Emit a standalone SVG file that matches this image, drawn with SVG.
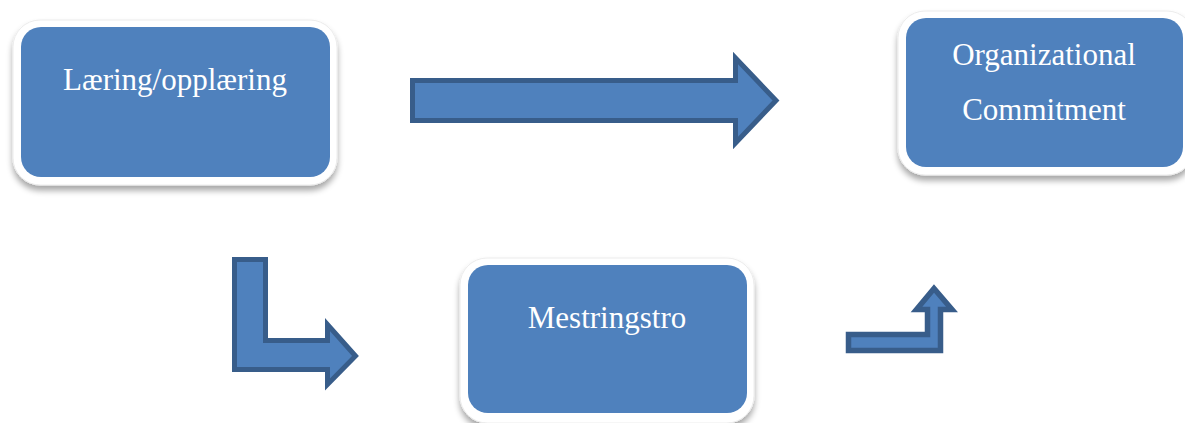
<svg xmlns="http://www.w3.org/2000/svg" width="1185" height="423" viewBox="0 0 1185 423">
<defs>
<filter id="sh" x="-10%" y="-10%" width="120%" height="130%">
<feGaussianBlur in="SourceAlpha" stdDeviation="3"/>
<feOffset dx="0" dy="5" result="b"/>
<feComponentTransfer><feFuncA type="linear" slope="0.35"/></feComponentTransfer>
<feMerge><feMergeNode/><feMergeNode in="SourceGraphic"/></feMerge>
</filter>
<style>
.frame{fill:#ffffff;stroke:#ececec;stroke-width:1;filter:url(#sh)}
.box{fill:#4f81bd}
.lbl{font-family:"Liberation Serif","Times New Roman",serif;font-size:31px;fill:#ffffff;text-anchor:middle}
.arr{fill:#4f81bd;stroke:#385d8a;stroke-linejoin:miter}
</style>
</defs>
<rect width="1185" height="423" fill="#ffffff"/>
<g id="node-laering">
<rect class="frame" x="13" y="20" width="324" height="165" rx="27"/>
<rect class="box" x="21" y="27" width="309" height="150" rx="20"/>
<text class="lbl" x="175" y="90">Læring/opplæring</text>
</g>
<g id="node-org">
<rect class="frame" x="898" y="11" width="296" height="164" rx="27"/>
<rect class="box" x="906" y="18" width="277" height="149" rx="20"/>
<text class="lbl" x="1044" y="65">Organizational</text>
<text class="lbl" x="1044" y="120">Commitment</text>
</g>
<g id="node-mestring">
<rect class="frame" x="460" y="258" width="294" height="165" rx="27"/>
<rect class="box" x="468" y="265" width="279" height="148" rx="20"/>
<text class="lbl" x="607" y="328">Mestringstro</text>
</g>
<g id="connectors">
<path class="arr" stroke-width="5" d="M412.5,80.5 H735.5 V58 L776,100.5 L735.5,143 V120.5 H412.5 Z"/>
<path class="arr" stroke-width="5" stroke-linejoin="round" d="M234.5,259.5 H265.5 V340.5 H327.5 V324.5 L355.5,356 L327.5,384.5 V369.5 H234.5 Z"/>
<path class="arr" stroke-width="5.5" d="M848.5,334.5 H927.5 V309.5 H916.5 L934,288.5 L952,309.5 H940.5 V350.5 H848.5 Z"/>
</g>
</svg>
